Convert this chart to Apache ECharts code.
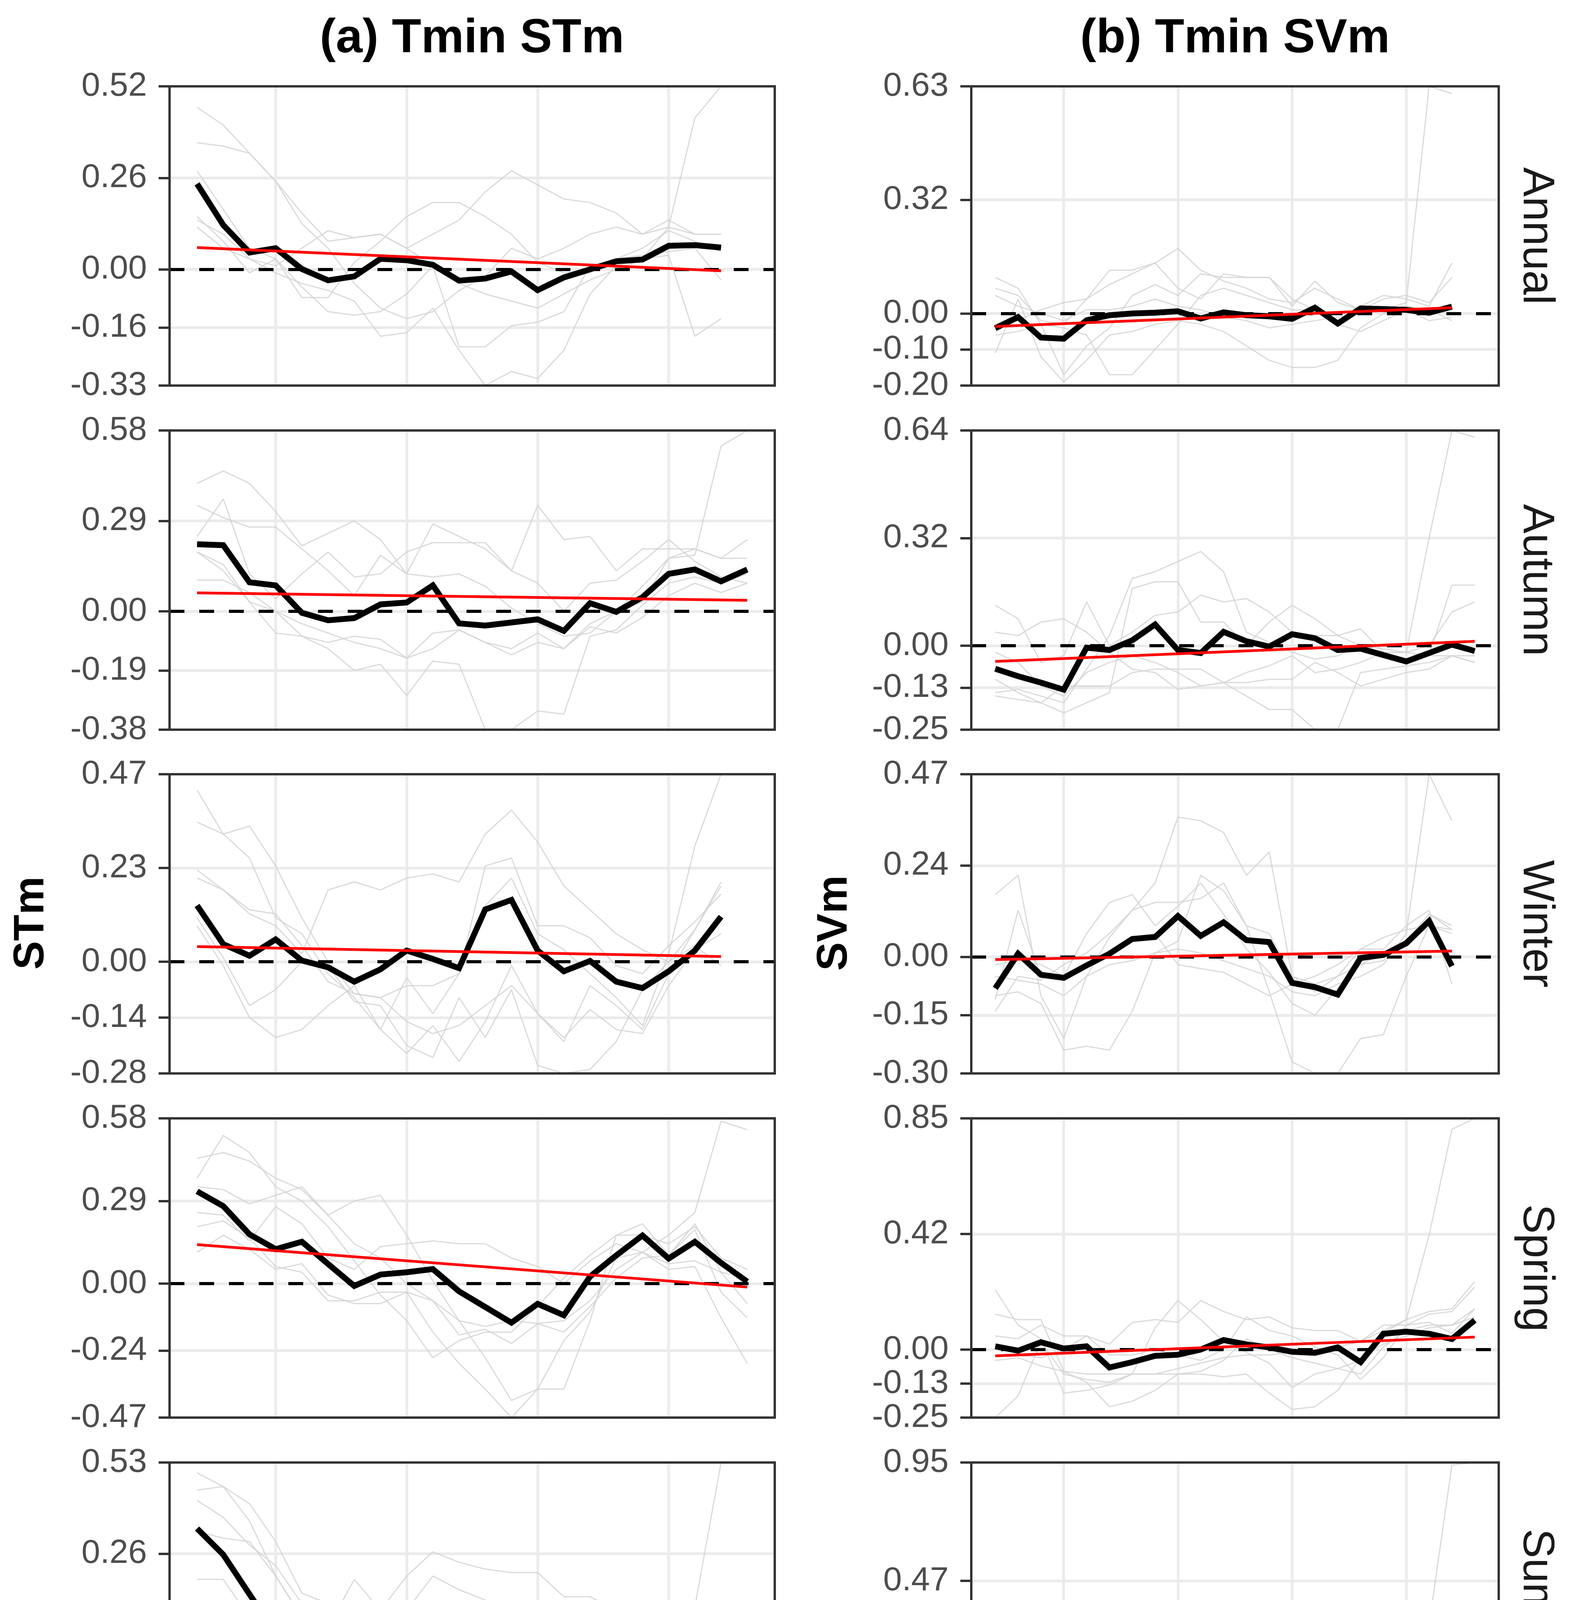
<!DOCTYPE html>
<html>
<head>
<meta charset="utf-8">
<title>Tmin STm / SVm</title>
<script src="https://cdn.jsdelivr.net/npm/echarts@6/dist/echarts.min.js"></script>
<style>
  html, body { margin: 0; padding: 0; background: #fff; }
  #chart { width: 4021px; height: 4801px; }
</style>
</head>
<body>
<div id="chart"></div>
<script>
// years on the x axis
var yearsTo2017 = [1997,1998,1999,2000,2001,2002,2003,2004,2005,2006,2007,2008,2009,2010,2011,2012,2013,2014,2015,2016,2017];
var yearsTo2018 = [1997,1998,1999,2000,2001,2002,2003,2004,2005,2006,2007,2008,2009,2010,2011,2012,2013,2014,2015,2016,2017,2018];
var xTickValues = [2000, 2005, 2010, 2015];
var seasons = ['Annual', 'Autumn', 'Winter', 'Spring', 'Summer'];

// ---------- (a) Tmin STm ----------
var stmAnnualRange = [-0.33, 0.52];
var stmAnnualTicks = ['0.52', '0.26', '0.00', '-0.16', '-0.33'];
var stmAnnualMean = [0.243,0.126,0.048,0.060,0.001,-0.031,-0.020,0.030,0.026,0.013,-0.032,-0.026,-0.006,-0.059,-0.023,0.000,0.023,0.028,0.067,0.069,0.062];
var stmAnnualTrend = [0.062, -0.004];
var stmAnnualStations = [
  [0.46,0.41,0.33,0.25,0.16,0.08,0.09,0.10,0.06,0.01,-0.04,-0.07,-0.09,-0.11,-0.07,-0.03,0.00,0.03,0.12,0.43,0.52],
  [0.36,0.35,0.33,0.25,0.13,0.06,-0.04,-0.11,-0.14,-0.12,-0.06,-0.02,0.06,0.03,0.06,0.10,0.12,0.10,0.14,0.10,0.10],
  [0.15,0.08,-0.01,0.03,-0.05,-0.12,-0.13,-0.12,-0.07,0.01,-0.22,-0.22,-0.16,-0.15,-0.12,0.01,0.03,0.04,0.05,0.06,-0.03],
  [0.12,0.06,0.03,-0.01,-0.04,-0.06,-0.09,-0.19,-0.18,-0.11,-0.23,-0.33,-0.29,-0.31,-0.23,-0.07,0.01,0.03,0.04,-0.19,-0.14],
  [0.28,0.17,0.06,0.03,-0.08,-0.08,0.02,0.08,0.15,0.19,0.19,0.15,0.10,0.02,-0.01,0.00,0.03,0.06,0.11,0.08,0.05],
  [0.14,0.10,0.03,0.01,0.06,0.11,0.09,0.10,0.06,0.10,0.14,0.22,0.28,0.24,0.20,0.19,0.16,0.10,0.12,0.10,0.10]
];

var stmAutumnRange = [-0.38, 0.58];
var stmAutumnTicks = ['0.58', '0.29', '0.00', '-0.19', '-0.38'];
var stmAutumnMean = [0.215,0.212,0.093,0.083,-0.005,-0.029,-0.022,0.022,0.028,0.083,-0.039,-0.046,-0.036,-0.026,-0.063,0.026,-0.002,0.045,0.120,0.134,0.096,0.134];
var stmAutumnTrend = [0.059, 0.035];
var stmAutumnStations = [
  [0.19,0.13,0.03,0.00,-0.04,-0.07,-0.10,-0.12,-0.15,-0.07,-0.06,-0.10,-0.12,-0.07,-0.12,-0.04,0.00,0.08,0.17,0.18,0.53,0.58],
  [0.41,0.45,0.41,0.32,0.21,0.25,0.29,0.23,0.12,0.11,0.12,0.08,0.01,-0.04,-0.08,-0.07,0.00,0.03,0.17,0.20,0.17,0.23],
  [0.34,0.30,0.27,0.27,0.20,0.13,0.05,0.18,0.12,0.28,0.24,0.20,0.13,0.34,0.23,0.24,0.13,0.20,0.20,0.20,0.17,0.17],
  [0.24,0.36,0.12,0.04,0.12,0.19,0.11,0.12,0.19,0.22,0.22,0.22,0.13,0.09,0.00,0.09,0.10,0.16,0.23,0.16,0.11,0.09],
  [0.19,0.15,0.03,-0.07,-0.08,-0.12,-0.19,-0.17,-0.27,-0.16,-0.17,-0.38,-0.38,-0.32,-0.33,-0.08,-0.06,0.02,0.09,0.11,0.09,0.12],
  [0.10,0.10,0.06,0.00,-0.08,-0.10,-0.08,-0.09,-0.15,-0.12,-0.06,-0.10,-0.14,-0.10,-0.12,-0.05,-0.07,-0.02,0.05,0.09,0.06,0.09]
];

var stmWinterRange = [-0.28, 0.47];
var stmWinterTicks = ['0.47', '0.23', '0.00', '-0.14', '-0.28'];
var stmWinterMean = [0.141,0.044,0.015,0.056,0.003,-0.014,-0.050,-0.019,0.028,0.007,-0.016,0.131,0.155,0.028,-0.024,0.002,-0.050,-0.066,-0.024,0.028,0.113];
var stmWinterTrend = [0.038, 0.013];
var stmWinterStations = [
  [0.43,0.32,0.26,0.11,0.07,-0.03,-0.09,-0.17,-0.04,-0.13,-0.03,0.14,0.21,0.07,0.03,-0.03,-0.09,-0.16,0.02,0.29,0.47],
  [0.35,0.32,0.34,0.24,0.11,0.00,-0.08,-0.09,-0.15,-0.18,-0.16,-0.11,-0.06,-0.13,-0.20,-0.06,-0.11,-0.17,-0.03,0.08,0.20],
  [0.23,0.18,0.12,0.09,0.02,0.18,0.20,0.18,0.21,0.22,0.20,0.32,0.38,0.30,0.19,0.13,0.07,0.03,0.00,0.08,0.19],
  [0.21,0.18,0.13,0.12,0.04,-0.05,-0.08,-0.09,-0.06,-0.06,-0.03,0.24,0.26,0.09,0.09,0.06,-0.01,-0.03,0.04,0.10,0.17],
  [0.09,-0.01,-0.14,-0.19,-0.17,-0.11,-0.06,-0.17,-0.23,-0.16,-0.25,-0.15,-0.01,-0.13,-0.19,-0.12,-0.17,-0.18,-0.06,0.03,0.07],
  [0.11,0.01,-0.11,-0.07,0.00,-0.01,-0.10,-0.11,-0.21,-0.24,-0.09,-0.19,-0.07,-0.26,-0.28,-0.27,-0.20,-0.07,0.00,0.04,-0.01]
];

var stmSpringRange = [-0.47, 0.58];
var stmSpringTicks = ['0.58', '0.29', '0.00', '-0.24', '-0.47'];
var stmSpringMean = [0.324,0.272,0.173,0.121,0.147,0.069,-0.008,0.032,0.040,0.051,-0.027,-0.082,-0.137,-0.071,-0.111,0.025,0.099,0.169,0.088,0.147,0.073,0.007];
var stmSpringTrend = [0.137, -0.012];
var stmSpringStations = [
  [0.44,0.46,0.43,0.37,0.33,0.24,0.14,0.09,0.00,-0.06,-0.13,-0.15,-0.13,-0.14,-0.13,-0.06,0.05,0.11,0.17,0.25,0.57,0.54],
  [0.37,0.52,0.46,0.34,0.29,0.20,0.08,-0.04,-0.13,-0.26,-0.20,-0.17,-0.17,-0.08,0.02,0.10,0.17,0.17,0.14,0.20,0.09,0.05],
  [0.34,0.33,0.28,0.31,0.34,0.24,0.29,0.31,0.17,0.01,-0.13,-0.26,-0.41,-0.37,-0.37,-0.13,0.17,0.21,0.10,0.19,-0.03,-0.12],
  [0.25,0.24,0.15,0.27,0.21,0.09,0.05,0.13,0.14,0.15,0.14,0.14,0.09,0.06,0.00,0.08,0.14,0.11,0.07,0.08,0.04,0.02],
  [0.11,0.17,0.12,0.05,0.07,-0.04,-0.07,-0.07,-0.03,-0.17,-0.28,-0.37,-0.47,-0.37,-0.20,-0.10,0.09,0.11,0.05,0.06,-0.12,-0.28],
  [0.20,0.22,0.16,0.06,0.04,-0.06,-0.06,-0.03,-0.03,-0.06,-0.18,-0.16,-0.21,-0.14,-0.17,-0.08,0.02,0.09,0.10,0.21,0.04,-0.07]
];

var stmSummerRange = [-0.34, 0.53];
var stmSummerTicks = ['0.53', '0.26', '0.00', '-0.17', '-0.34'];
var stmSummerMean = [0.338,0.262,0.147,0.033,-0.046,-0.062,-0.073,-0.034,0.049,0.057,0.021,0.002,-0.026,-0.042,-0.089,-0.022,-0.054,0.013,0.037,0.047,0.013,0.020];
var stmSummerTrend = [0.103, -0.051];
var stmSummerStations = [
  [0.50,0.46,0.41,0.30,0.15,0.12,0.07,-0.04,-0.05,-0.05,-0.10,-0.19,-0.20,-0.19,-0.13,-0.07,0.01,0.07,0.08,0.11,0.53,0.53],
  [0.45,0.46,0.36,0.20,0.08,0.01,-0.01,-0.06,-0.08,-0.14,-0.24,-0.14,-0.10,-0.11,-0.15,-0.07,-0.05,0.02,0.07,0.05,-0.02,-0.03],
  [0.42,0.37,0.29,0.23,0.12,0.01,-0.13,0.01,0.10,0.20,0.16,0.13,0.01,-0.10,-0.09,-0.01,0.01,0.08,0.10,0.10,0.05,0.04],
  [0.33,0.31,0.30,0.20,0.08,0.05,0.19,0.10,0.20,0.27,0.24,0.22,0.21,0.21,0.14,0.14,0.10,0.09,0.06,0.07,0.00,0.01],
  [0.08,0.08,0.02,-0.09,-0.09,-0.09,-0.07,-0.11,-0.16,-0.19,-0.25,-0.34,-0.32,-0.33,-0.32,-0.23,-0.15,-0.12,-0.01,0.01,-0.13,-0.18],
  [0.19,0.19,0.08,0.02,-0.05,-0.09,-0.07,-0.06,-0.05,-0.11,-0.15,-0.18,-0.19,-0.20,-0.18,-0.14,-0.11,-0.03,0.02,0.01,-0.04,-0.06]
];

// ---------- (b) Tmin SVm ----------
var svmAnnualRange = [-0.20, 0.63];
var svmAnnualTicks = ['0.63', '0.32', '0.00', '-0.10', '-0.20'];
var svmAnnualMean = [-0.041,-0.010,-0.067,-0.070,-0.019,-0.005,0.000,0.002,0.006,-0.014,0.003,-0.005,-0.008,-0.015,0.016,-0.028,0.014,0.012,0.010,0.002,0.019];
var svmAnnualTrend = [-0.036, 0.016];
var svmAnnualStations = [
  [0.05,0.02,0.00,-0.02,0.01,0.01,0.02,0.04,0.02,0.01,-0.01,-0.02,-0.04,-0.03,-0.02,-0.01,0.00,0.01,0.03,0.63,0.61],
  [0.07,0.05,-0.02,-0.03,0.04,0.08,0.11,0.14,0.18,0.12,0.09,0.07,0.04,0.03,0.07,0.04,0.01,0.04,0.05,0.03,0.10],
  [0.10,0.07,-0.03,-0.17,-0.09,-0.04,0.05,0.08,0.05,0.11,0.10,0.10,0.10,0.04,0.01,-0.02,0.02,0.05,0.04,0.02,0.14],
  [-0.11,0.04,-0.12,-0.19,-0.13,-0.06,-0.05,-0.03,-0.02,-0.03,-0.05,-0.09,-0.13,-0.15,-0.15,-0.13,-0.04,0.00,0.01,-0.02,-0.01],
  [-0.06,-0.05,-0.03,-0.04,-0.06,-0.17,-0.17,-0.10,-0.03,0.05,0.07,0.05,0.03,0.01,0.01,-0.03,-0.05,-0.02,0.01,0.01,0.00],
  [-0.03,-0.02,0.01,0.03,0.04,0.12,0.12,0.14,0.07,0.04,0.11,0.10,0.10,0.02,0.09,0.03,0.01,0.01,0.02,0.01,-0.02]
];

var svmAutumnRange = [-0.25, 0.64];
var svmAutumnTicks = ['0.64', '0.32', '0.00', '-0.13', '-0.25'];
var svmAutumnMean = [-0.069,-0.091,-0.110,-0.131,-0.006,-0.013,0.016,0.063,-0.013,-0.022,0.041,0.013,-0.003,0.034,0.022,-0.013,-0.009,-0.028,-0.047,-0.022,0.003,-0.016];
var svmAutumnTrend = [-0.047, 0.013];
var svmAutumnStations = [
  [-0.02,-0.05,-0.12,-0.15,-0.08,-0.05,-0.03,-0.05,-0.08,-0.12,-0.11,-0.08,-0.06,-0.03,-0.08,-0.07,-0.05,-0.02,-0.02,0.32,0.64,0.62],
  [-0.14,-0.13,-0.15,-0.17,-0.07,0.03,0.20,0.22,0.25,0.28,0.22,0.04,0.01,-0.02,-0.04,-0.03,0.00,-0.02,-0.02,-0.03,0.18,0.18],
  [-0.15,-0.16,-0.17,-0.20,-0.17,-0.14,0.17,0.19,0.19,0.07,0.07,0.00,0.07,0.12,0.08,0.03,0.00,-0.01,-0.02,0.00,0.10,0.13],
  [0.12,0.08,-0.05,-0.03,0.13,0.00,0.04,0.09,0.10,0.15,0.13,0.14,0.10,0.04,0.03,0.03,0.05,-0.02,-0.05,-0.03,-0.03,-0.05],
  [0.04,0.03,0.07,0.08,0.04,-0.02,-0.07,-0.08,-0.13,-0.12,-0.11,-0.15,-0.19,-0.19,-0.25,-0.25,-0.08,-0.07,-0.06,-0.05,-0.03,-0.03],
  [-0.10,-0.14,-0.17,-0.12,-0.12,-0.12,-0.08,-0.07,-0.07,-0.07,-0.11,-0.11,-0.10,-0.10,-0.05,-0.08,-0.12,-0.10,-0.08,-0.07,-0.03,-0.05]
];

var svmWinterRange = [-0.30, 0.47];
var svmWinterTicks = ['0.47', '0.24', '0.00', '-0.15', '-0.30'];
var svmWinterMean = [-0.081,0.008,-0.046,-0.054,-0.022,0.008,0.046,0.051,0.105,0.054,0.089,0.043,0.038,-0.067,-0.078,-0.097,-0.003,0.005,0.035,0.092,-0.024];
var svmWinterTrend = [-0.007, 0.015];
var svmWinterStations = [
  [-0.05,-0.06,-0.07,-0.10,-0.05,-0.02,-0.01,0.01,0.02,0.01,-0.01,-0.03,-0.05,-0.09,-0.10,-0.07,-0.05,-0.02,0.06,0.47,0.35],
  [-0.14,-0.05,-0.06,-0.02,0.01,0.06,0.12,0.19,0.36,0.35,0.32,0.21,0.27,-0.05,-0.07,-0.05,-0.02,0.01,0.04,0.11,0.08],
  [0.16,0.21,-0.10,-0.21,-0.05,0.05,0.12,0.14,0.14,0.15,0.19,0.08,0.06,-0.05,-0.09,-0.05,0.02,0.02,0.08,0.12,-0.07],
  [-0.10,-0.09,-0.12,-0.24,-0.23,-0.24,-0.14,0.01,0.04,0.21,0.17,0.08,-0.09,-0.27,-0.30,-0.30,-0.21,-0.20,-0.05,0.08,0.06],
  [-0.11,0.12,-0.05,-0.05,0.06,0.14,0.16,0.08,0.13,0.19,0.11,0.02,-0.04,-0.12,-0.15,-0.08,-0.02,-0.01,0.04,0.11,0.07],
  [-0.02,-0.01,-0.02,-0.05,-0.02,0.00,0.05,0.06,-0.02,-0.03,-0.04,-0.07,-0.10,-0.07,-0.05,-0.02,0.02,0.05,0.07,0.08,0.07]
];

var svmSpringRange = [-0.25, 0.85];
var svmSpringTicks = ['0.85', '0.42', '0.00', '-0.13', '-0.25'];
var svmSpringMean = [0.012,-0.004,0.027,0.004,0.012,-0.066,-0.046,-0.023,-0.019,0.000,0.035,0.019,0.008,-0.008,-0.012,0.008,-0.046,0.058,0.066,0.058,0.039,0.108];
var svmSpringTrend = [-0.023, 0.046];
var svmSpringStations = [
  [-0.25,-0.17,0.03,-0.09,-0.11,-0.12,-0.09,-0.09,-0.07,-0.05,-0.03,-0.02,-0.02,-0.01,0.00,0.01,0.03,0.07,0.11,0.42,0.81,0.85],
  [0.22,0.09,0.04,-0.16,-0.15,-0.13,-0.09,0.08,0.18,0.11,0.03,-0.01,-0.05,-0.14,-0.09,-0.07,-0.04,0.06,0.11,0.14,0.15,0.25],
  [0.05,0.04,0.09,0.05,0.05,0.02,0.10,0.11,0.10,0.18,0.14,0.11,0.12,0.08,0.07,0.07,0.03,0.09,0.09,0.13,0.14,0.23],
  [-0.04,-0.03,-0.06,-0.08,-0.12,-0.21,-0.19,-0.15,-0.09,-0.09,-0.10,-0.09,-0.16,-0.22,-0.21,-0.15,-0.03,0.02,0.05,0.08,0.09,0.12],
  [0.13,0.11,0.11,-0.08,-0.09,-0.09,-0.09,-0.09,-0.09,-0.08,-0.04,0.04,0.00,-0.03,-0.05,-0.07,-0.09,0.01,0.07,0.09,0.09,0.15],
  [-0.02,-0.02,-0.03,0.00,0.05,-0.02,-0.02,0.00,-0.02,-0.04,0.00,0.12,0.07,0.05,0.01,-0.02,-0.11,-0.03,0.09,0.10,0.06,0.15]
];

var svmSummerRange = [-0.25, 0.95];
var svmSummerTicks = ['0.95', '0.47', '0.00', '-0.12', '-0.25'];
var svmSummerMean = [-0.015,-0.026,-0.064,-0.031,-0.031,0.006,0.019,0.025,-0.024,0.004,-0.020,-0.058,-0.037,-0.010,0.006,0.023,-0.002,0.012,-0.002,0.006,0.004,0.025];
var svmSummerTrend = [-0.029, 0.012];
var svmSummerStations = [
  [-0.03,-0.04,-0.05,-0.04,-0.03,-0.02,0.00,0.01,0.00,-0.02,-0.03,-0.04,-0.03,-0.02,0.00,0.01,0.02,0.02,0.03,0.30,0.94,0.95],
  [-0.05,-0.07,-0.09,-0.05,0.02,0.13,0.20,0.19,0.19,0.21,0.14,-0.07,-0.09,0.00,0.05,0.09,0.04,0.02,0.02,0.16,0.11,0.11],
  [0.08,0.04,-0.05,-0.16,-0.13,-0.04,0.09,0.18,0.13,0.07,0.04,0.02,0.00,0.04,0.05,0.04,0.03,0.05,0.04,0.05,0.07,0.07],
  [-0.20,-0.09,-0.07,-0.14,-0.14,-0.07,-0.04,-0.06,-0.09,-0.15,-0.15,-0.20,-0.23,-0.24,-0.24,-0.23,-0.03,0.00,-0.02,-0.07,-0.07,-0.04],
  [-0.10,-0.10,-0.08,-0.06,-0.07,-0.02,0.14,0.14,0.04,0.05,0.04,-0.14,-0.14,-0.16,-0.16,-0.14,0.00,0.02,0.00,0.00,-0.02,0.00],
  [-0.04,-0.06,-0.08,-0.09,-0.05,0.00,0.04,0.02,0.03,0.04,0.02,-0.03,-0.09,-0.05,0.02,0.04,0.01,0.03,0.00,-0.06,-0.05,-0.02]
];

// panel list: column 0 = STm, column 1 = SVm
var panels = [
  {col: 0, row: 0, years: yearsTo2017, range: stmAnnualRange, ticks: stmAnnualTicks, mean: stmAnnualMean, trend: stmAnnualTrend, stations: stmAnnualStations},
  {col: 0, row: 1, years: yearsTo2018, range: stmAutumnRange, ticks: stmAutumnTicks, mean: stmAutumnMean, trend: stmAutumnTrend, stations: stmAutumnStations},
  {col: 0, row: 2, years: yearsTo2017, range: stmWinterRange, ticks: stmWinterTicks, mean: stmWinterMean, trend: stmWinterTrend, stations: stmWinterStations},
  {col: 0, row: 3, years: yearsTo2018, range: stmSpringRange, ticks: stmSpringTicks, mean: stmSpringMean, trend: stmSpringTrend, stations: stmSpringStations},
  {col: 0, row: 4, years: yearsTo2018, range: stmSummerRange, ticks: stmSummerTicks, mean: stmSummerMean, trend: stmSummerTrend, stations: stmSummerStations},
  {col: 1, row: 0, years: yearsTo2017, range: svmAnnualRange, ticks: svmAnnualTicks, mean: svmAnnualMean, trend: svmAnnualTrend, stations: svmAnnualStations},
  {col: 1, row: 1, years: yearsTo2018, range: svmAutumnRange, ticks: svmAutumnTicks, mean: svmAutumnMean, trend: svmAutumnTrend, stations: svmAutumnStations},
  {col: 1, row: 2, years: yearsTo2017, range: svmWinterRange, ticks: svmWinterTicks, mean: svmWinterMean, trend: svmWinterTrend, stations: svmWinterStations},
  {col: 1, row: 3, years: yearsTo2018, range: svmSpringRange, ticks: svmSpringTicks, mean: svmSpringMean, trend: svmSpringTrend, stations: svmSpringStations},
  {col: 1, row: 4, years: yearsTo2018, range: svmSummerRange, ticks: svmSummerTicks, mean: svmSummerMean, trend: svmSummerTrend, stations: svmSummerStations}
];

// layout (pixels)
var colLeft = [434, 2486];
var colWidth = [1549, 1350];
var rowTop = [221, 1102, 1982, 2863, 3744];
var rowHeight = 766;
var font = '"Liberation Sans", Arial, Helvetica, sans-serif';

function pairs(years, vals) {
  return vals.map(function (v, i) { return [years[i], v]; });
}

var grids = [], xAxes = [], yAxes = [], series = [], graphics = [];

panels.forEach(function (p, idx) {
  var lastRow = p.row === 4;
  // y ticks at max, max/2, 0, min/2, min
  var yTickValues = [p.range[1], p.range[1] / 2, 0, p.range[0] / 2, p.range[0]];

  grids.push({
    left: colLeft[p.col], top: rowTop[p.row], width: colWidth[p.col], height: rowHeight,
    show: false
  });

  xAxes.push({
    gridIndex: idx, type: 'value', min: 1995.95, max: 2019.05,
    axisLine: {show: false},
    axisTick: {show: lastRow, length: 28, customValues: xTickValues, lineStyle: {color: '#333333', width: 6}},
    axisLabel: {
      show: lastRow, customValues: xTickValues, margin: 50,
      fontSize: 86, fontFamily: font, color: '#4D4D4D',
      formatter: function (v) { return String(Math.round(v)); }
    },
    splitLine: {show: true, lineStyle: {color: '#EBEBEB', width: 7}}
  });

  yAxes.push({
    gridIndex: idx, type: 'value', min: p.range[0], max: p.range[1],
    axisLine: {show: false},
    axisTick: {show: true, length: 28, customValues: yTickValues, lineStyle: {color: '#333333', width: 6}},
    axisLabel: {
      show: true, customValues: yTickValues, margin: 58,
      fontSize: 86, fontFamily: font, color: '#4D4D4D',
      formatter: function (v) {
        for (var i = 0; i < yTickValues.length; i++) {
          if (Math.abs(yTickValues[i] - v) < 1e-9) return p.ticks[i];
        }
        return '';
      }
    },
    // first and last custom ticks sit on the panel edges, where the border goes
    splitLine: {show: true, showMinLine: false, showMaxLine: false, lineStyle: {color: '#EBEBEB', width: 7}}
  });

  // thin grey lines, one per station
  p.stations.forEach(function (s) {
    series.push({
      type: 'line', xAxisIndex: idx, yAxisIndex: idx, z: 2,
      data: pairs(p.years, s), symbol: 'none', silent: true,
      lineStyle: {color: '#d4d4d4', width: 3, opacity: 0.85}
    });
  });

  // mean line with the dashed zero reference
  series.push({
    type: 'line', xAxisIndex: idx, yAxisIndex: idx, z: 10,
    data: pairs(p.years, p.mean), symbol: 'none', silent: true,
    lineStyle: {color: '#000000', width: 15, join: 'miter'},
    markLine: {
      silent: true, symbol: ['none', 'none'], z: 4, animation: false,
      label: {show: false},
      lineStyle: {color: '#000000', width: 8, type: [38, 38], opacity: 1},
      data: [{yAxis: 0}]
    }
  });

  // linear trend
  series.push({
    type: 'line', xAxisIndex: idx, yAxisIndex: idx, z: 11,
    data: [[p.years[0], p.trend[0]], [p.years[p.years.length - 1], p.trend[1]]],
    symbol: 'none', silent: true,
    lineStyle: {color: '#FF0000', width: 7}
  });

  // panel border drawn on top, as in theme_bw
  graphics.push({
    type: 'rect', silent: true, z: 100,
    shape: {x: colLeft[p.col], y: rowTop[p.row], width: colWidth[p.col], height: rowHeight},
    style: {fill: 'none', stroke: '#333333', lineWidth: 6}
  });
});

function label(text, x, y, size, bold, rotation, color) {
  return {
    type: 'text', x: x, y: y, rotation: rotation || 0, z: 100, silent: true,
    style: {
      text: text, font: (bold ? 'bold ' : '') + size + 'px ' + font, fill: color || '#000',
      textAlign: 'center', textVerticalAlign: 'middle', align: 'center', verticalAlign: 'middle'
    }
  };
}
graphics.push(label('(a) Tmin STm', 1208, 100, 123, true));
graphics.push(label('(b) Tmin SVm', 3161, 100, 123, true));
graphics.push(label('Year', 1208, 4725, 113, true));
graphics.push(label('Year', 3161, 4725, 113, true));
graphics.push(label('STm', 81, 2363, 110, true, Math.PI / 2));
graphics.push(label('SVm', 2137, 2363, 110, true, Math.PI / 2));
seasons.forEach(function (name, r) {
  graphics.push(label(name, 3931, rowTop[r] + rowHeight / 2, 113, false, -Math.PI / 2, '#1A1A1A'));
});

var myChart = echarts.init(document.getElementById('chart'), null, {renderer: 'canvas'});
myChart.setOption({
  backgroundColor: '#ffffff',
  animation: false,
  grid: grids,
  xAxis: xAxes,
  yAxis: yAxes,
  series: series,
  graphic: graphics
});
</script>
</body>
</html>
